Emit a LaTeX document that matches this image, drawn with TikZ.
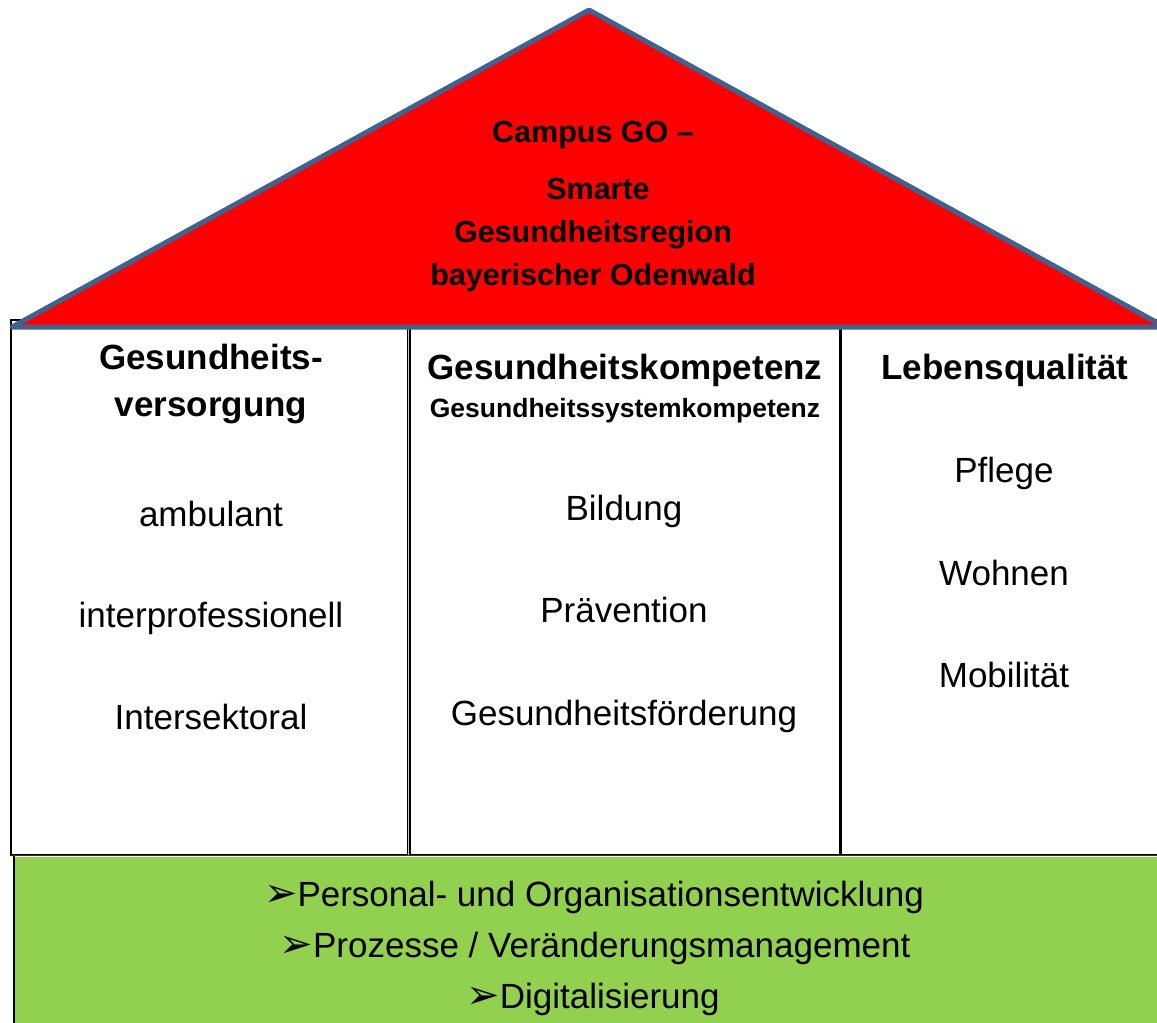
\documentclass[tikz,border=0pt]{standalone}
\usepackage{fontspec}
\setmainfont{Liberation Sans}
\newfontfamily\arrowfont{DejaVu Sans}
\definecolor{roofblue}{RGB}{65,98,143}
\definecolor{foundgreen}{RGB}{146,208,80}
\tikzset{
  roof/.style={fill=red, draw=roofblue, line width=5pt, line join=round},
  pillarbox/.style={fill=white, draw=black, line width=2pt},
  foundbox/.style={fill=foundgreen},
  sepline/.style={draw=black, line width=3pt},
  headtxt/.style={font=\fontsize{35}{42}\selectfont\bfseries, anchor=base, inner sep=0pt},
  subtxt/.style={font=\fontsize{26.5}{32}\selectfont\bfseries, anchor=base, inner sep=0pt},
  itemtxt/.style={font=\fontsize{35}{42}\selectfont, anchor=base, inner sep=0pt},
  rooftxt/.style={font=\fontsize{30.5}{36}\selectfont\bfseries, anchor=base, inner sep=0pt},
  bullettxt/.style={font=\fontsize{35}{42}\selectfont, anchor=base, inner sep=0pt},
}
\newcommand{\myarrow}{{\arrowfont\fontsize{40}{44}\selectfont ➢}}
\begin{document}
\begin{tikzpicture}[x=1pt,y=-1pt]
\useasboundingbox (0,0) rectangle (1157,1023);
\clip (0,0) rectangle (1157,1023);
% pillars
\draw[pillarbox] (11,320) rectangle (1180,855);
\draw[draw=black, line width=1.3pt, double=gray!40, double distance=1.4pt] (408.5,320) -- (408.5,855);
\draw[sepline] (840,320) -- (840,855);
% foundation
\fill[foundbox] (14,857) rectangle (1180,1040);
\draw[black, line width=2pt] (14,856) -- (14,1040);
\draw[black!80, line width=1.5pt] (11,855.5) -- (1180,855.5);
% roof
\draw[roof] (12,327) -- (589,10) -- (1165,327) -- cycle;
% roof text
\node[rooftxt] (t1) at (593,142) {Campus GO –};
\node[rooftxt] (t2) at (598,199) {Smarte};
\node[rooftxt] (t3) at (593,242) {Gesundheitsregion};
\node[rooftxt] (t4) at (593,285) {bayerischer Odenwald};
% left pillar
\node[headtxt] (h1a) at (211,369) {Gesundheits-};
\node[headtxt] (h1b) at (211,416) {versorgung};
\node[itemtxt] (l1) at (211,526) {ambulant};
\node[itemtxt] (l2) at (211,627) {interprofessionell};
\node[itemtxt] (l3) at (211,729) {Intersektoral};
% middle pillar
\node[headtxt] (h2a) at (625,379) {Gesundheitskompetenz};
\node[subtxt] (h2b) at (625,417) {Gesundheitssystemkompetenz};
\node[itemtxt] (m1) at (624,520) {Bildung};
\node[itemtxt] (m2) at (624,622) {Prävention};
\node[itemtxt] (m3) at (624,725) {Gesundheitsförderung};
% right pillar
\node[headtxt] (h3) at (1005,379) {Lebensqualität};
\node[itemtxt] (r1) at (1004,482) {Pflege};
\node[itemtxt] (r2) at (1004,585) {Wohnen};
\node[itemtxt] (r3) at (1004,687) {Mobilität};
% foundation text
\node[bullettxt] (b1) at (594,906) {\myarrow Personal- und Organisationsentwicklung};
\node[bullettxt] (b2) at (595,957) {\myarrow Prozesse / Veränderungsmanagement};
\node[bullettxt] (b3) at (593,1008) {\myarrow Digitalisierung};
\end{tikzpicture}
\end{document}
